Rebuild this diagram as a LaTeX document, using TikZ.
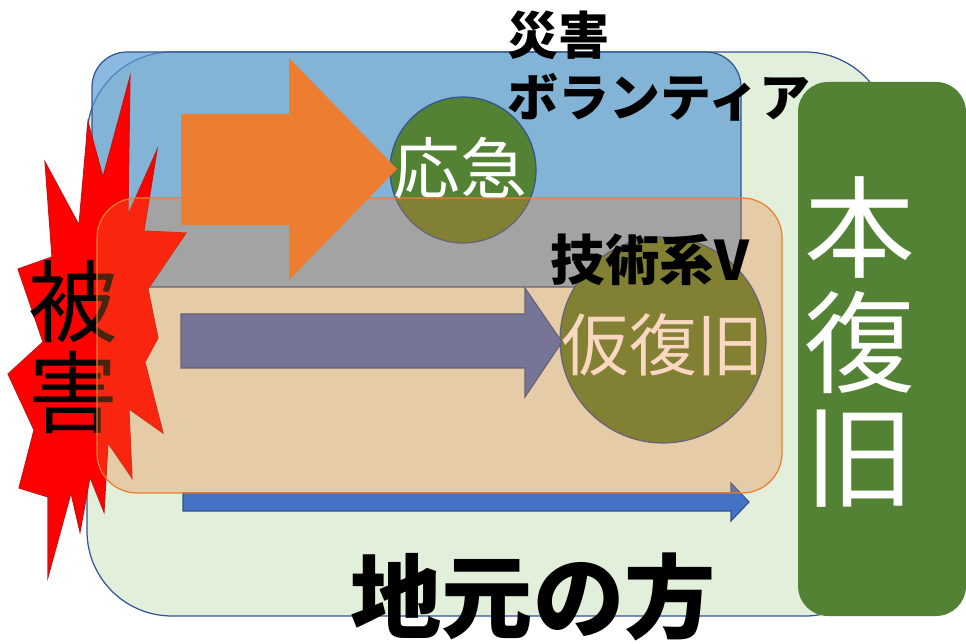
\documentclass[tikz,border=0pt]{standalone}
\usepackage{fontspec}
\newfontfamily\jp{Noto Sans CJK JP}
\definecolor{bggreen}{RGB}{226,239,218}
\definecolor{edgeblue}{RGB}{47,85,151}
\definecolor{boxblue}{RGB}{91,155,213}
\definecolor{accorange}{RGB}{237,125,49}
\definecolor{accblue}{RGB}{68,114,196}
\definecolor{arrowedge}{RGB}{47,82,143}
\definecolor{leafgreen}{RGB}{84,130,53}
\definecolor{boomred}{RGB}{255,0,0}
\definecolor{boomedge}{RGB}{200,20,20}
\begin{document}
\begin{tikzpicture}[x=0.02cm,y=-0.02cm,
  jptext/.style={inner sep=0pt, align=center},
  areabox/.style={draw=edgeblue, line width=0.7pt},
  blockarrow/.style={fill=accblue, draw=arrowedge, line width=0.6pt},
  phasecircle/.style={circle, inner sep=0pt, fill=leafgreen, draw=edgeblue, line width=0.7pt}]
\useasboundingbox (0,0) rectangle (966,644);
% outer local area
\path[areabox, fill=bggreen, rounded corners=1.7cm] (87,52) rectangle (890,616);
% volunteer area
\path[areabox, fill=boxblue, fill opacity=0.7, rounded corners=0.7cm] (92,52) rectangle (741,287);
% circles
\node[phasecircle, minimum size=2.92cm] (c1) at (463,170) {};
\node[phasecircle, minimum size=4.12cm] (c2) at (663,340) {};
% arrows
\path[fill=accorange] (181,114) -- (289,114) -- (289,58) -- (397,169) -- (289,280) -- (289,225) -- (181,225) -- cycle;
\path[blockarrow] (181,314) -- (525,314) -- (525,288) -- (562,342) -- (525,397) -- (525,368) -- (181,368) -- cycle;
\path[blockarrow] (183,493) -- (731,493) -- (731,483) -- (749,502) -- (731,521) -- (731,511) -- (183,511) -- cycle;
% explosion
\path[fill=boomred, draw=boomedge, line width=0.6pt]
 (45,162) -- (79,225) -- (88,122) -- (103,177) -- (130,77) -- (128,215) -- (157,150) -- (144,231)
 -- (186,233) -- (148,289) -- (158,338) -- (145,362) -- (163,433) -- (129,409) -- (132,478)
 -- (108,443) -- (104,512) -- (90,477) -- (80,532) -- (71,493) -- (48,577) -- (48,497)
 -- (19,488) -- (34,430) -- (8,374) -- (43,342) -- (18,269) -- (52,257) -- cycle;
\node[jptext, font={\jp\fontsize{51pt}{52pt}\selectfont}] (higai) at (73,347) {被\\害};
\node[jptext, text=white, font={\jp\fontsize{38.5pt}{40pt}\selectfont}] (karifukkyu) at (663,345) {仮復旧};
% technical volunteer area (translucent overlay)
\path[draw=accorange, line width=0.7pt, fill=accorange, fill opacity=0.3, rounded corners=0.8cm] (97,198) rectangle (782,493);
% labels
\node[jptext, text=white, font={\jp\fontsize{38pt}{40pt}\selectfont}] (oukyu) at (460,168) {応急};
\node[jptext, anchor=west, align=left, font={\jp\bfseries\fontsize{29pt}{35pt}\selectfont}] (saigai) at (507,66) {災害\\ボランティア};
\node[jptext, font={\jp\bfseries\fontsize{31pt}{33pt}\selectfont}] (gijutsu) at (650,260) {技術系V};
\node[jptext, font={\jp\bfseries\fontsize{52pt}{54pt}\selectfont}] (jimoto) at (533,597) {地元の方};
% permanent restoration
\path[fill=leafgreen, rounded corners=0.6cm] (798,82) rectangle (966,616);
\node[jptext, text=white, font={\jp\fontsize{63pt}{65pt}\selectfont}] (honfukkyu) at (860,342) {本\\復\\旧};
\end{tikzpicture}
\end{document}
